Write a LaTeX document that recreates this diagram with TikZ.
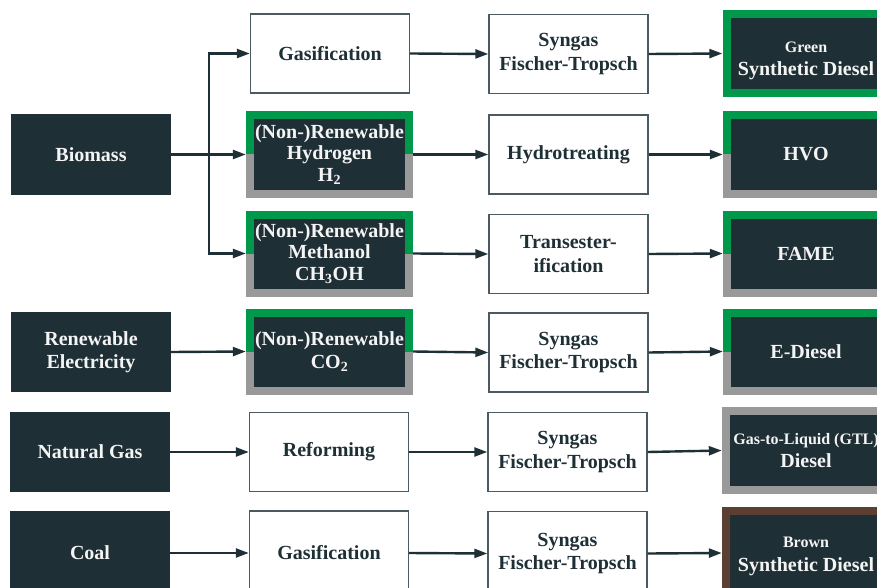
\documentclass[tikz,border=0pt]{standalone}
\usepackage{fontspec}
\setmainfont{Liberation Serif}
\usetikzlibrary{arrows.meta}

\definecolor{dark}{HTML}{1F2F36}
\definecolor{light}{HTML}{F4F4F4}
\definecolor{edge}{HTML}{4A5A60}
\definecolor{leaf}{HTML}{00984A}
\definecolor{ash}{HTML}{999999}
\definecolor{soil}{HTML}{5B3F33}

% small first line of a fuel label, with an optional strut height
\newcommand{\lbl}[2][0pt]{{\rule{0pt}{#1}\fontsize{16}{18}\selectfont #2}}

\tikzset{
  base/.style={rectangle, inner sep=0pt, align=center,
    font=\bfseries\fontsize{20}{23.5}\selectfont},
  src/.style={base, fill=dark, text=light, minimum width=160pt, minimum height=80pt},
  stepbox/.style={base, fill=white, draw=edge, line width=1.4pt, text=dark,
    minimum width=159pt, minimum height=79pt},
  inset/.style={path picture={
    \fill[dark] ([shift={(8pt,-8pt)}]path picture bounding box.north west)
      rectangle ([shift={(-8pt,8pt)}]path picture bounding box.south east);}},
  twotone/.style={base, text=light, fill=ash, minimum width=167pt, minimum height=86pt,
    path picture={
      \fill[leaf] (path picture bounding box.north west) rectangle (path picture bounding box.east);
      \fill[ash] (path picture bounding box.west) rectangle (path picture bounding box.south east);
      \fill[dark] ([shift={(8pt,-8pt)}]path picture bounding box.north west)
        rectangle ([shift={(-8pt,8pt)}]path picture bounding box.south east);}},
  framed/.style={base, text=light, fill=#1, minimum width=167pt, minimum height=87pt, inset},
  link/.style={draw=dark, line width=2.4pt, -{Triangle[length=13pt,width=9pt]}},
  plain/.style={draw=dark, line width=2.4pt},
}

\begin{document}
\begin{tikzpicture}[x=1pt,y=-1pt]
\useasboundingbox (0,0) rectangle (877,588);
\clip (0,0) rectangle (877,588);

% feedstocks
\node[src] (bio)  at (91,154.5) {Biomass};
\node[src] (elec) at (91,352) {Renewable\\Electricity};
\node[src] (gas)  at (90,452) {Natural Gas};
\node[src, minimum height=84pt] (coal) at (90,553) {Coal};

% intermediates
\node[stepbox] (gasif1) at (330,53.5) {Gasification};
\node[twotone, font=\bfseries\fontsize{20}{21.5}\selectfont] (h2) at (329.5,154.5)
  {(Non-)Renewable\\Hydrogen\\H\textsubscript{2}};
\node[twotone, font=\bfseries\fontsize{20}{21.5}\selectfont] (meoh) at (329.5,253.5)
  {(Non-)Renewable\\Methanol\\CH\textsubscript{3}OH};
\node[twotone] (co2) at (329.5,351.5) {(Non-)Renewable\\CO\textsubscript{2}};
\node[stepbox] (reform) at (329,452) {Reforming};
\node[stepbox, minimum height=84pt] (gasif2) at (329,553) {Gasification};

% conversion routes
\node[stepbox] (ft1)   at (568.5,54) {Syngas\\Fischer-Tropsch};
\node[stepbox] (hydro) at (568.5,154.5) {Hydrotreating};
\node[stepbox] (trans) at (568.5,254) {Transester-\\ification};
\node[stepbox] (ft2)   at (568.5,352.5) {Syngas\\Fischer-Tropsch};
\node[stepbox] (ft3)   at (567.5,452) {Syngas\\Fischer-Tropsch};
\node[stepbox, minimum height=84pt] (ft4) at (567.5,553.5) {Syngas\\Fischer-Tropsch};

% fuels
\node[framed=leaf] (green) at (806,53.5) {\lbl[25pt]{Green}\\Synthetic Diesel};
\node[twotone, minimum width=166pt] (hvo)   at (806,154.5) {HVO};
\node[twotone, minimum width=166pt] (fame)  at (806,253.5) {FAME};
\node[twotone, minimum width=166pt] (ediesel) at (806,351.5) {E-Diesel};
\node[framed=ash, minimum width=168pt] (gtl) at (806,450.5) {\lbl{Gas-to-Liquid (GTL)}\\Diesel};
\node[framed=soil, minimum width=168pt, minimum height=92pt] (brown) at (806,553)
  {\lbl[17pt]{Brown}\\Synthetic Diesel};

% biomass branches
\coordinate (fork) at (209,154.5);
\draw[plain] (bio.east) -- (fork);
\draw[link] (bio.east) -- (h2.west);
\draw[link] (fork) |- (gasif1.west);
\draw[link] (fork) |- (meoh.west);

% remaining flows
\draw[link] (elec.east) -- (co2.west);
\draw[link] (gas.east) -- (reform.west);
\draw[link] (coal.east) -- (gasif2.west);

\draw[link] (gasif1.east) -- (ft1.west);
\draw[link] (h2.east) -- (hydro.west);
\draw[link] (meoh.east) -- (trans.west);
\draw[link] (co2.east) -- (ft2.west);
\draw[link] (reform.east) -- (ft3.west);
\draw[link] (gasif2.east) -- (ft4.west);

\draw[link] (ft1.east) -- (green.west);
\draw[link] (hydro.east) -- (hvo.west);
\draw[link] (trans.east) -- (fame.west);
\draw[link] (ft2.east) -- (ediesel.west);
\draw[link] (ft3.east) -- (gtl.west);
\draw[link] (ft4.east) -- (brown.west);
\end{tikzpicture}
\end{document}
